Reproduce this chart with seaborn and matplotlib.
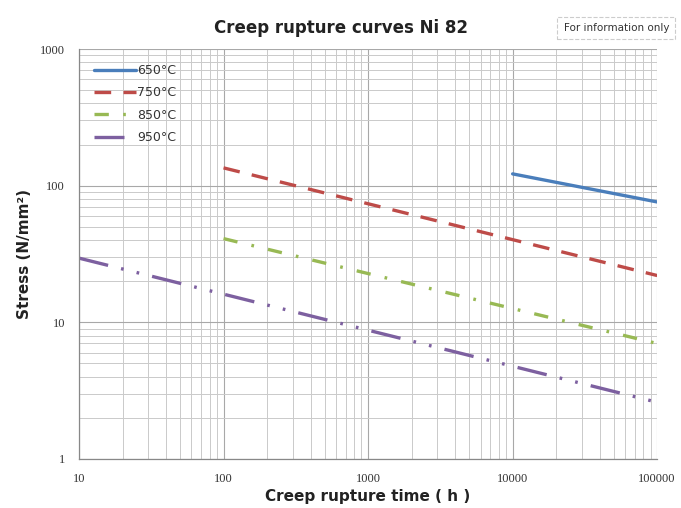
import matplotlib
matplotlib.use("Agg")
import matplotlib.pyplot as plt
import seaborn as sns
import pandas as pd
from matplotlib.ticker import LogLocator, FixedLocator, FixedFormatter, NullFormatter

sns.set_theme(style="white")
plt.rcParams['font.family'] = ['DejaVu Sans']

# Data
labels = ["650°C", "750°C", "850°C", "950°C"]
times_650 = [10000, 100000]
stress_650 = [122, 76]
times_750 = [100, 100000]
stress_750 = [135, 22]
times_850 = [100, 100000]
stress_850 = [41, 7.0]
times_950 = [10, 100000]
stress_950 = [29.5, 2.6]
x_ticks = [10, 100, 1000, 10000, 100000]
x_tick_labels = ["10", "100", "1000", "10000", "100000"]
y_ticks = [1, 10, 100, 1000]
y_tick_labels = ["1", "10", "100", "1000"]

colors = ["#4A7EBB", "#BE4B48", "#98B954", "#7D60A0"]
dash_styles = ["-", (0, (5, 3.7)), (0, (4.3, 4.3, 0.8, 4.3)),
               (0, (9, 4, 0.8, 4, 0.8, 4))]

series = [(times_650, stress_650), (times_750, stress_750),
          (times_850, stress_850), (times_950, stress_950)]

fig = plt.figure(figsize=(6.81, 5.08), dpi=100)
ax = fig.add_axes([0.116, 0.0965, 0.849, 0.807])

for (t, s), lab, c, ls in zip(series, labels, colors, dash_styles):
    df = pd.DataFrame({"t": t, "s": s})
    sns.lineplot(data=df, x="t", y="s", ax=ax, color=c, linewidth=2.4,
                 linestyle=ls, label=lab)

ax.set_xscale("log")
ax.set_yscale("log")
ax.set_xlim(10, 100000)
ax.set_ylim(1, 1000)

ax.xaxis.set_major_locator(FixedLocator(x_ticks))
ax.xaxis.set_major_formatter(FixedFormatter(x_tick_labels))
ax.yaxis.set_major_locator(FixedLocator(y_ticks))
ax.yaxis.set_major_formatter(FixedFormatter(y_tick_labels))
ax.xaxis.set_minor_locator(LogLocator(base=10, subs=range(2, 10), numticks=20))
ax.yaxis.set_minor_locator(LogLocator(base=10, subs=range(2, 10), numticks=20))
ax.xaxis.set_minor_formatter(NullFormatter())
ax.yaxis.set_minor_formatter(NullFormatter())

ax.grid(True, which="major", color="#a8a8a8", linewidth=0.8)
ax.grid(True, which="minor", color="#cacaca", linewidth=0.7)
ax.set_axisbelow(True)

for sp in ["top", "right"]:
    ax.spines[sp].set_visible(False)
for sp in ["left", "bottom"]:
    ax.spines[sp].set_color("#888888")
    ax.spines[sp].set_linewidth(0.9)

ax.tick_params(axis="both", which="major", length=4, color="#888888",
               labelsize=9, pad=6)
ax.tick_params(axis="both", which="minor", length=0)
for lbl in ax.get_xticklabels() + ax.get_yticklabels():
    lbl.set_fontfamily("Liberation Serif")
    lbl.set_color("#333333")

ax.set_xlabel("Creep rupture time ( h )", fontsize=11, fontweight="bold",
              color="#222222", labelpad=3)
ax.set_ylabel("Stress (N/mm²)", fontsize=11, fontweight="bold",
              color="#222222", labelpad=6)

fig.text(0.5, 0.945, "Creep rupture curves Ni 82", ha="center", va="center",
         fontsize=12, fontweight="bold", color="#222222")
fig.text(0.905, 0.945, "For information only", ha="center", va="center",
         fontsize=7.5, color="#333333",
         bbox=dict(boxstyle="square,pad=0.6", fc="white", ec="#cccccc",
                   lw=0.8, ls="--"))

leg = ax.legend(loc="upper left", frameon=False, fontsize=9,
                handlelength=3.4, handletextpad=0.1, labelspacing=0.75,
                borderaxespad=0.3, bbox_to_anchor=(0.01, 0.985))
for t in leg.get_texts():
    t.set_color("#333333")

fig.savefig("out.png", dpi=100)
